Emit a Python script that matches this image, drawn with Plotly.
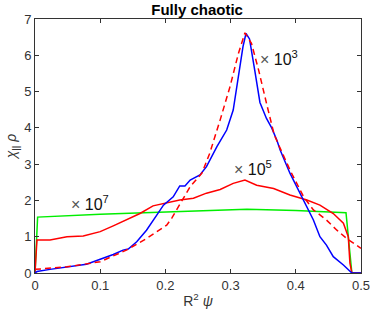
import plotly.graph_objects as go

# Blue solid (x 10^3)
blue_x = [0, 0.003, 0.023, 0.049, 0.079, 0.10, 0.12, 0.135, 0.143, 0.156, 0.171, 0.187, 0.197,
          0.212, 0.222, 0.23, 0.238, 0.253, 0.263, 0.279, 0.294, 0.304, 0.312, 0.319, 0.3236,
          0.327, 0.329, 0.337, 0.345, 0.355, 0.363, 0.371, 0.376, 0.391, 0.406, 0.419, 0.427,
          0.437, 0.447, 0.4575, 0.473, 0.486, 0.5]
blue_y = [0, 0.04, 0.1, 0.17, 0.24, 0.38, 0.51, 0.63, 0.66, 0.86, 1.18, 1.6, 1.87,
          2.1, 2.4, 2.4, 2.56, 2.7, 2.93, 3.48, 3.94, 4.49, 5.5, 6.24, 6.6,
          6.51, 6.45, 5.59, 4.7, 4.26, 4.0, 3.66, 3.39, 2.75, 2.2, 1.74, 1.46,
          1.0, 0.77, 0.45, 0.22, 0.0, 0.0]

# Red dashed (theory)
dash_x = [0, 0.049, 0.10, 0.14, 0.171, 0.202, 0.21, 0.238, 0.256, 0.268, 0.284, 0.299, 0.312,
          0.322, 0.332, 0.343, 0.355, 0.367, 0.391, 0.412, 0.427, 0.447, 0.463, 0.478, 0.5]
dash_y = [0.1, 0.17, 0.31, 0.63, 0.95, 1.32, 1.52, 2.38, 2.75, 3.3, 4.22, 5.13, 6.05,
          6.62, 6.33, 5.59, 4.68, 3.8, 2.84, 2.1, 1.74, 1.46, 1.18, 0.95, 0.68]

# Red solid (x 10^5)
red_x = [0, 0.003, 0.023, 0.049, 0.074, 0.10, 0.12, 0.14, 0.161, 0.181, 0.202, 0.222, 0.243,
         0.263, 0.284, 0.304, 0.322, 0.34, 0.366, 0.391, 0.417, 0.437, 0.4575, 0.473, 0.4805,
         0.483, 0.486, 0.5]
red_y = [0, 0.91, 0.91, 1.0, 1.02, 1.14, 1.3, 1.46, 1.64, 1.85, 1.94, 2.01, 2.06,
         2.2, 2.3, 2.47, 2.56, 2.42, 2.33, 2.15, 2.01, 1.87, 1.64, 1.37, 1.0,
         0.27, 0.0, 0.0]

# Green solid (x 10^7)
green_x = [0, 0.004, 0.1, 0.2, 0.325, 0.4, 0.477, 0.486, 0.5]
green_y = [0, 1.54, 1.62, 1.69, 1.76, 1.72, 1.66, 0.0, 0.0]

xticks = [0, 0.1, 0.2, 0.3, 0.4, 0.5]
xtick_labels = ["0", "0.1", "0.2", "0.3", "0.4", "0.5"]
yticks = [0, 1, 2, 3, 4, 5, 6, 7]

labels = [("<span style='color:#555555'>×</span> 10<sup>3</sup>", 0.342, 5.92),
          ("<span style='color:#555555'>×</span> 10<sup>5</sup>", 0.302, 2.89),
          ("<span style='color:#555555'>×</span> 10<sup>7</sup>", 0.052, 1.93)]

FONT = "Liberation Sans, Arial"

fig = go.Figure()
fig.add_trace(go.Scatter(x=green_x, y=green_y, mode="lines",
                         line=dict(color="#00ee00", width=1.5)))
fig.add_trace(go.Scatter(x=red_x, y=red_y, mode="lines",
                         line=dict(color="#ff0000", width=1.5)))
fig.add_trace(go.Scatter(x=blue_x, y=blue_y, mode="lines",
                         line=dict(color="#0000ff", width=1.5)))
fig.add_trace(go.Scatter(x=dash_x, y=dash_y, mode="lines",
                         line=dict(color="#ff0000", width=1.5, dash="6px,4px")))

for txt, x, y in labels:
    fig.add_annotation(x=x, y=y, text=txt, showarrow=False, xanchor="left", yanchor="middle",
                       font=dict(family=FONT, size=16, color="#111111"))

axis_common = dict(showline=True, linecolor="#333333", linewidth=1, mirror="ticks",
                   ticks="inside", ticklen=4, tickcolor="#333333", showgrid=False, zeroline=False,
                   automargin=False,
                   tickfont=dict(family=FONT, size=13, color="#333333"))

fig.update_layout(
    width=374, height=316,
    margin=dict(l=35, r=13, t=19, b=43),
    paper_bgcolor="white", plot_bgcolor="white",
    showlegend=False,
    title=dict(text="<b>Fully chaotic</b>", x=0.527, xanchor="center", y=0.968, yanchor="middle",
               font=dict(family=FONT, size=15, color="#000000")),
    xaxis=dict(range=[0, 0.5], tickvals=xticks, ticktext=xtick_labels,
               title=dict(text="R<sup>2</sup> <i>ψ</i>", standoff=4,
                          font=dict(family=FONT, size=14, color="#333333")),
               **axis_common),
    yaxis=dict(range=[0, 7], tickvals=yticks,
               title=dict(text="<i>χ</i><sub>||</sub> <i>ρ</i>", standoff=4,
                          font=dict(family=FONT, size=14, color="#333333")),
               **axis_common),
)

fig.write_html("out.html", config={"displayModeBar": False, "staticPlot": True},
               post_script="document.body.style.margin='0';document.body.style.overflow='hidden';")
